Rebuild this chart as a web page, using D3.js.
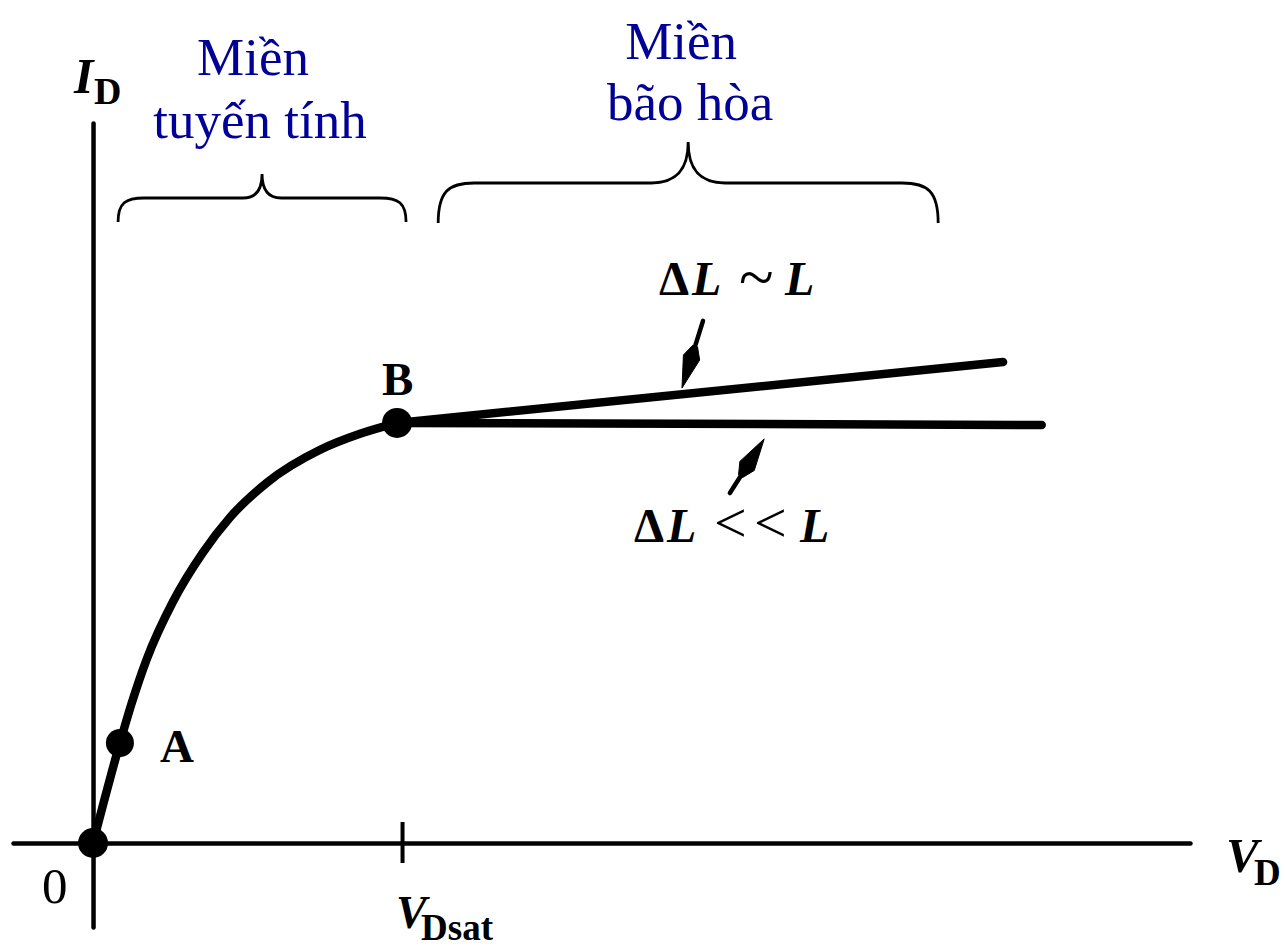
<!DOCTYPE html>
<html>
<head>
<meta charset="utf-8">
<script src="https://cdn.jsdelivr.net/npm/d3@7"></script>
<style>
  body { margin: 0; background: #fff; }
  svg { display: block; }
</style>
</head>
<body>
<svg id="chart" width="1285" height="947"></svg>
<script>
// Drain current I_D versus drain voltage V_D of a MOSFET (normalised: V_Dsat = 1, I_Dsat = 1)

// Triode (linear) part of the characteristic, from the origin up to point B
const curveV = [0, 0.087, 0.126, 0.175, 0.259, 0.356, 0.443, 0.563, 0.735, 0.864, 0.984];
const curveI = [0, 0.238, 0.335, 0.440, 0.575, 0.692, 0.775, 0.858, 0.936, 0.974, 1.0];

// Saturation part: long channel (ΔL << L) and short channel (ΔL ~ L)
const longV  = [0.984, 3.07];
const longI  = [1.0, 0.995];
const shortV = [0.984, 2.945];
const shortI = [1.0, 1.145];

// Marked points
const pointNames = ["O", "A", "B"];
const pointV = [0, 0.087, 0.984];
const pointI = [0, 0.238, 1.0];
const pointLabels = ["", "A", "B"];

// Tick on the voltage axis
const tickV = [1.0];

// Operating regions (braces above the plot)
const regionTitle = ["Miền", "Miền"];
const regionSub   = ["tuyến tính", "bão hòa"];
const regionV0 = [0.081, 1.117];
const regionV1 = [1.013, 2.735];

// Pointer arrows to the two saturation lines
const arrowTipV  = [1.906, 2.172];
const arrowTipI  = [1.083, 0.962];
const arrowTailV = [1.974, 2.061];
const arrowTailI = [1.243, 0.833];

const svg = d3.select("#chart");
const serif = "'Liberation Serif', 'Times New Roman', serif";
const ink = "#000";
const blue = "#000099";

const x = d3.scaleLinear().domain([-0.259, 3.55]).range([13, 1190]);
const y = d3.scaleLinear().domain([-0.2, 1.714]).range([927, 123]);

// ---- axes ----
const xAxis = svg.append("g")
  .attr("transform", `translate(0,${y(0)})`)
  .call(d3.axisBottom(x).tickValues(tickV).tickSize(20).tickSizeOuter(0).tickFormat(""));
xAxis.select(".domain").attr("stroke", ink).attr("stroke-width", 4.5).attr("stroke-linecap", "round");
xAxis.selectAll(".tick line").attr("y1", -21).attr("y2", 20).attr("stroke", ink).attr("stroke-width", 4);

const yAxis = svg.append("g")
  .attr("transform", `translate(${x(0)},0)`)
  .call(d3.axisLeft(y).tickValues([]).tickSizeOuter(0));
yAxis.select(".domain").attr("stroke", ink).attr("stroke-width", 4.5).attr("stroke-linecap", "round");

// ---- characteristic curves ----
const curvePts = curveV.map((v, i) => [v, curveI[i]]);
svg.append("path")
  .attr("d", d3.line().x(d => x(d[0])).y(d => y(d[1])).curve(d3.curveMonotoneX)(curvePts))
  .attr("fill", "none").attr("stroke", ink).attr("stroke-width", 8.5)
  .attr("stroke-linecap", "round").attr("stroke-linejoin", "round");

const straight = d3.line().x(d => x(d[0])).y(d => y(d[1]));
[[longV, longI], [shortV, shortI]].forEach(([vs, is]) => {
  svg.append("path")
    .attr("d", straight(vs.map((v, i) => [v, is[i]])))
    .attr("fill", "none").attr("stroke", ink).attr("stroke-width", 8.5)
    .attr("stroke-linecap", "round");
});

// ---- points ----
svg.selectAll("circle.pt").data(pointNames).join("circle")
  .attr("class", "pt")
  .attr("cx", (d, i) => x(pointV[i]))
  .attr("cy", (d, i) => y(pointI[i]))
  .attr("r", (d, i) => i === 1 ? 14 : 15)
  .attr("fill", ink);

const labelOffsets = [[0, 0], [40, 19], [-15, -28]];
svg.selectAll("text.ptlabel").data(pointLabels).join("text")
  .attr("class", "ptlabel")
  .attr("x", (d, i) => x(pointV[i]) + labelOffsets[i][0])
  .attr("y", (d, i) => y(pointI[i]) + labelOffsets[i][1])
  .attr("font-family", serif).attr("font-weight", "bold").attr("font-size", 47)
  .attr("fill", ink)
  .text(d => d);

// origin label
svg.append("text")
  .attr("x", x(0) - 51).attr("y", y(0) + 60)
  .attr("font-family", serif).attr("font-size", 51).attr("fill", ink)
  .text("0");

// ---- axis titles ----
function subLabel(px, py, main, sub, mainSize, subSize, subDx, subDy) {
  const t = svg.append("text").attr("x", px).attr("y", py)
    .attr("font-family", serif).attr("fill", ink);
  t.append("tspan").attr("font-style", "italic").attr("font-weight", "bold")
    .attr("font-size", mainSize).text(main);
  t.append("tspan").attr("x", px + subDx).attr("dy", subDy)
    .attr("font-weight", "bold").attr("font-size", subSize).text(sub);
}
subLabel(74, 93, "I", "D", 50, 38, 20, 11);
subLabel(1226, 872, "V", "D", 49, 37, 28, 13);
subLabel(x(tickV[0]) - 6, 928, "V", "Dsat", 46, 37, 25, 12);

// ---- region braces ----
function brace(x0, x1, yEnd, yBar, yTip, rc, rm) {
  const xm = (x0 + x1) / 2;
  return `M${x0},${yEnd}` +
    `C${x0},${yBar + (yEnd - yBar) * 0.2} ${x0 + rc * 0.3},${yBar} ${x0 + rc},${yBar}` +
    `L${xm - rm},${yBar}` +
    `C${xm - rm * 0.25},${yBar} ${xm},${yBar - (yBar - yTip) * 0.4} ${xm},${yTip}` +
    `C${xm},${yBar - (yBar - yTip) * 0.4} ${xm + rm * 0.25},${yBar} ${xm + rm},${yBar}` +
    `L${x1 - rc},${yBar}` +
    `C${x1 - rc * 0.3},${yBar} ${x1},${yBar + (yEnd - yBar) * 0.2} ${x1},${yEnd}`;
}
const braceGeom = [
  { yEnd: 222, yBar: 198, yTip: 174, rc: 26, rm: 19, t1: 75, t2: 138, dx1: -9, dx2: -2 },
  { yEnd: 223, yBar: 183, yTip: 142, rc: 36, rm: 37, t1: 59, t2: 120, dx1: -7, dx2: 2 }
];
regionTitle.forEach((title, i) => {
  const g = braceGeom[i];
  const x0 = x(regionV0[i]), x1 = x(regionV1[i]), xm = (x0 + x1) / 2;
  svg.append("path")
    .attr("d", brace(x0, x1, g.yEnd, g.yBar, g.yTip, g.rc, g.rm))
    .attr("fill", "none").attr("stroke", ink).attr("stroke-width", 2.8);
  svg.append("text").attr("x", xm + g.dx1).attr("y", g.t1)
    .attr("text-anchor", "middle").attr("font-family", serif)
    .attr("font-size", 53).attr("fill", blue).text(title);
  svg.append("text").attr("x", xm + g.dx2).attr("y", g.t2)
    .attr("text-anchor", "middle").attr("font-family", serif)
    .attr("font-size", 53).attr("fill", blue).text(regionSub[i]);
});

// ---- pointer arrows ----
arrowTipV.forEach((tv, i) => {
  const tx = x(tv), ty = y(arrowTipI[i]);
  const bx = x(arrowTailV[i]), by = y(arrowTailI[i]);
  const len = Math.hypot(bx - tx, by - ty);
  const ux = (bx - tx) / len, uy = (by - ty) / len;
  const nx = -uy, ny = ux;
  const wide = 32, back = 44, hw = 8.5, bw = 2.5;
  svg.append("line")
    .attr("x1", tx + ux * (back - 4)).attr("y1", ty + uy * (back - 4))
    .attr("x2", bx).attr("y2", by)
    .attr("stroke", ink).attr("stroke-width", 4.5).attr("stroke-linecap", "round");
  const pt = (a, b) => [tx + ux * a + nx * b, ty + uy * a + ny * b];
  const head = [pt(0, 0), pt(wide, hw), pt(back, bw), pt(back, -bw), pt(wide, -hw)];
  svg.append("path").attr("d", "M" + head.join("L") + "Z")
    .attr("fill", ink).attr("stroke", ink).attr("stroke-width", 1).attr("stroke-linejoin", "round");
});

// ---- channel-length annotations ----
function deltaLabel(baseline, parts) {
  parts.forEach(p => {
    svg.append("text").attr("x", p.x).attr("y", baseline + (p.dy || 0))
      .attr("font-family", serif).attr("font-size", p.size || 48).attr("fill", ink)
      .attr("font-style", p.italic ? "italic" : "normal")
      .attr("font-weight", p.bold ? "bold" : "normal")
      .text(p.s);
  });
}
deltaLabel(295, [
  { s: "Δ", x: 659, bold: true },
  { s: "L", x: 692, italic: true, bold: true },
  { s: "~", x: 739, size: 64, dy: 4 },
  { s: "L", x: 785, italic: true, bold: true }
]);
deltaLabel(542, [
  { s: "Δ", x: 634, bold: true },
  { s: "L", x: 667, italic: true, bold: true },
  { s: "<", x: 714, size: 58 },
  { s: "<", x: 754, size: 58 },
  { s: "L", x: 800, italic: true, bold: true }
]);
</script>
</body>
</html>
